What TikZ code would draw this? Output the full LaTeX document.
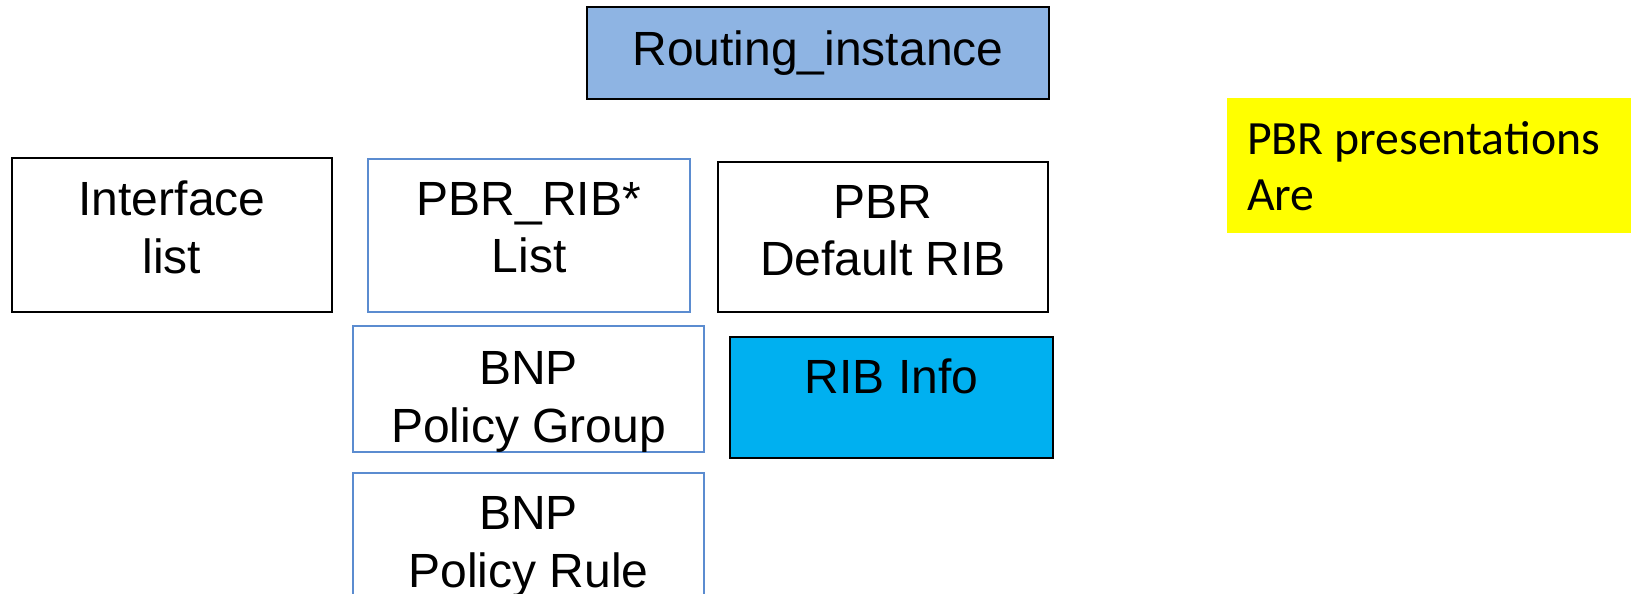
\documentclass[tikz,border=0pt]{standalone}
\usepackage{fontspec}
\setmainfont{Liberation Sans}
\newfontfamily\notefont{Carlito}
\usepackage{xcolor}
\usepackage{tikz}
\usetikzlibrary{positioning}
\definecolor{routeblue}{HTML}{8EB4E3}
\definecolor{edgeblue}{HTML}{5B8CD0}
\definecolor{ribcyan}{HTML}{00B0F0}
\definecolor{noteyellow}{HTML}{FFFF00}
% invisible rules to nudge the text inside a box
\newcommand{\sinkby}[1]{\rule{0pt}{#1}}
\newcommand{\liftby}[1]{\rule[-#1]{0pt}{#1}}

\begin{document}
\begin{tikzpicture}[x=0.75pt, y=-0.75pt]
    \tikzstyle{block} = [rectangle, draw=black, line width=1.1pt, fill=white, align=center, inner sep=0pt, font=\fontsize{36}{43}\selectfont]
    \tikzstyle{table} = [block, draw=edgeblue, line width=0.9pt]
    \tikzstyle{note} = [rectangle, fill=noteyellow, align=flush left, inner ysep=0pt, inner xsep=15pt, font=\notefont\fontsize{35.8}{42}\selectfont]

    \clip (0,0) rectangle (1631,593);
    \fill[white] (0,0) rectangle (1631,593);

    % Top level
    \node [block, fill=routeblue, minimum width=346.5pt, minimum height=69pt] (routing) at (818,53) {Routing\_instance};

    % Lists
    \node [block, minimum width=240pt, minimum height=115.5pt] (iface) at (172,235) {Interface\\list\liftby{12pt}};
    \node [table, minimum width=241.5pt, minimum height=114.75pt] (pbrrib) at (529,235.5) {PBR\_RIB*\\List\liftby{12pt}};
    \node [block, minimum width=247.5pt, minimum height=112.5pt] (pbrdefault) at (883,237) {PBR\\Default RIB\liftby{10pt}};

    % Policy and RIB details
    \node [table, minimum width=263.25pt, minimum height=91.5pt] (bnpgroup) at (528.5,389) {\sinkby{44pt}BNP\\Policy Group};
    \node [block, fill=ribcyan, minimum width=242.25pt, minimum height=90.75pt] (ribinfo) at (891.5,397.5) {RIB Info\liftby{32pt}};
    \node [table, minimum width=263.25pt, minimum height=100.5pt] (bnprule) at (528.5,540) {\sinkby{35pt}BNP\\Policy Rule};

    % Side note
    \node [note, anchor=north west, text width=300pt, minimum height=101.25pt] (pbrnote) at (1227,98) {PBR presentations\\Are};
\end{tikzpicture}
\end{document}
